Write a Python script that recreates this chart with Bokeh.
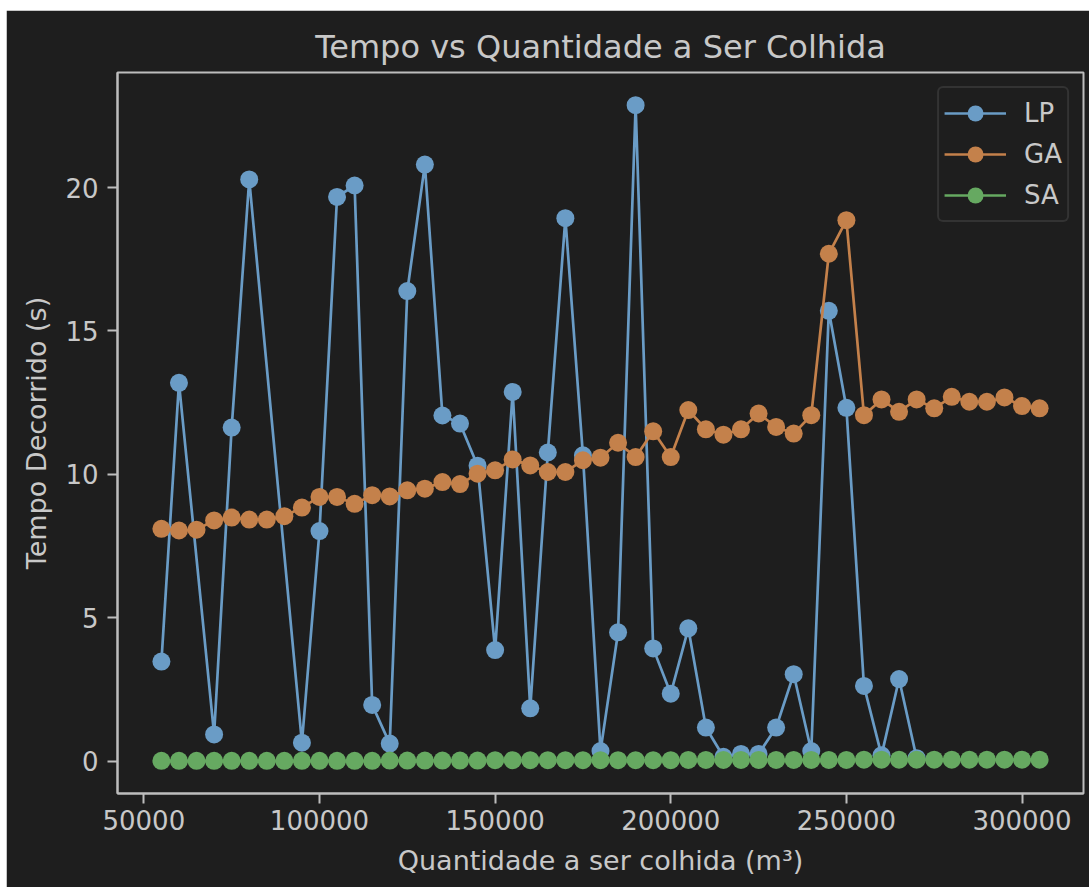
from bokeh.plotting import figure
from bokeh.models import Range1d, FixedTicker, NumeralTickFormatter
from bokeh.embed import file_html
from bokeh.resources import INLINE

# ---- data ----
quantidade = [55000, 60000, 65000, 70000, 75000, 80000, 85000, 90000, 95000, 100000,
              105000, 110000, 115000, 120000, 125000, 130000, 135000, 140000, 145000, 150000,
              155000, 160000, 165000, 170000, 175000, 180000, 185000, 190000, 195000, 200000,
              205000, 210000, 215000, 220000, 225000, 230000, 235000, 240000, 245000, 250000,
              255000, 260000, 265000, 270000, 275000, 280000, 285000, 290000, 295000, 300000,
              305000]

lp_quantidade = [55000, 60000, 70000, 75000, 80000, 95000, 100000, 105000, 110000, 115000,
                 120000, 125000, 130000, 135000, 140000, 145000, 150000, 155000, 160000, 165000,
                 170000, 175000, 180000, 185000, 190000, 195000, 200000, 205000, 210000, 215000,
                 220000, 225000, 230000, 235000, 240000, 245000, 250000, 255000, 260000, 265000,
                 270000]
lp_tempo = [3.47, 13.19, 0.93, 11.63, 20.28, 0.64, 8.02, 19.67, 20.07, 1.96,
            0.61, 16.39, 20.80, 12.05, 11.77, 10.30, 3.87, 12.87, 1.84, 10.76,
            18.93, 10.66, 0.35, 4.49, 22.87, 3.93, 2.35, 4.63, 1.17, 0.15,
            0.25, 0.25, 1.17, 3.03, 0.35, 15.70, 12.32, 2.62, 0.20, 2.86,
            0.10]

ga_tempo = [8.10, 8.04, 8.07, 8.39, 8.49, 8.42, 8.42, 8.54, 8.84, 9.21,
            9.21, 8.97, 9.27, 9.23, 9.44, 9.50, 9.73, 9.66, 10.02, 10.14,
            10.52, 10.31, 10.08, 10.08, 10.49, 10.58, 11.10, 10.60, 11.50, 10.60,
            12.24, 11.57, 11.38, 11.57, 12.12, 11.65, 11.42, 12.06, 17.69, 18.86,
            12.06, 12.61, 12.18, 12.61, 12.30, 12.70, 12.53, 12.53, 12.68, 12.38,
            12.30]

sa_tempo = [0.01, 0.01, 0.01, 0.01, 0.01, 0.01, 0.01, 0.01, 0.01, 0.01,
            0.01, 0.01, 0.01, 0.02, 0.02, 0.02, 0.02, 0.02, 0.02, 0.03,
            0.03, 0.03, 0.03, 0.03, 0.03, 0.03, 0.03, 0.03, 0.03, 0.03,
            0.04, 0.04, 0.04, 0.04, 0.04, 0.04, 0.04, 0.04, 0.04, 0.04,
            0.05, 0.05, 0.05, 0.05, 0.05, 0.05, 0.05, 0.05, 0.05, 0.05,
            0.05]

x_ticks = [50000, 100000, 150000, 200000, 250000, 300000]
y_ticks = [0, 5, 10, 15, 20]

# ---- style ----
BG = "#1e1e1e"
FG = "#c8c8c8"
SPINE = "#bdbdbd"
FONT = "DejaVu Sans"
C_LP = "#6a9cc6"
C_GA = "#c4814b"
C_SA = "#66a961"

p = figure(width=1083, height=877, output_backend="svg", toolbar_location=None,
           x_range=Range1d(42500, 317500), y_range=Range1d(-1.13, 24.01),
           min_border_left=111, min_border_right=6, min_border_top=62, min_border_bottom=94,
           background_fill_color=BG, border_fill_color=BG, margin=(10, 0, 0, 6),
           title="Tempo vs Quantidade a Ser Colhida")

p.title.align = "center"
p.title.text_font = FONT
p.title.text_font_size = "32px"
p.title.text_font_style = "normal"
p.title.text_color = FG
p.title.standoff = 14

p.grid.visible = False
p.outline_line_color = SPINE
p.outline_line_width = 2

for ax in (p.xaxis[0], p.yaxis[0]):
    ax.axis_line_color = SPINE
    ax.axis_line_width = 2
    ax.major_tick_line_color = SPINE
    ax.major_tick_line_width = 2
    ax.major_tick_out = 10
    ax.major_tick_in = 0
    ax.minor_tick_line_color = None
    ax.major_label_text_font = FONT
    ax.major_label_text_font_size = "26px"
    ax.major_label_text_color = FG
    ax.axis_label_text_font = FONT
    ax.axis_label_text_font_size = "27px"
    ax.axis_label_text_font_style = "normal"
    ax.axis_label_text_color = FG

p.xaxis[0].ticker = FixedTicker(ticks=x_ticks)
p.yaxis[0].ticker = FixedTicker(ticks=y_ticks)
p.xaxis[0].formatter = NumeralTickFormatter(format="0")
p.yaxis[0].formatter = NumeralTickFormatter(format="0")
p.xaxis[0].axis_label = "Quantidade a ser colhida (m³)"
p.yaxis[0].axis_label = "Tempo Decorrido (s)"
p.xaxis[0].major_label_standoff = 6
p.xaxis[0].axis_label_standoff = 12
p.yaxis[0].major_label_standoff = 9
p.yaxis[0].axis_label_standoff = 10

series = [
    ("LP", lp_quantidade, lp_tempo, C_LP),
    ("GA", quantidade, ga_tempo, C_GA),
    ("SA", quantidade, sa_tempo, C_SA),
]
for name, xs, ys, col in series:
    p.line(xs, ys, line_color=col, line_width=2.7, legend_label=name)
    p.scatter(xs, ys, size=18, fill_color=col, line_color=col, line_width=0,
              legend_label=name)

lg = p.legend[0]
lg.location = "top_right"
lg.margin = 14
lg.padding = 5
lg.spacing = 1
lg.glyph_width = 62
lg.glyph_height = 40
lg.label_height = 40
lg.label_standoff = 18
lg.label_text_font = FONT
lg.label_text_font_size = "26px"
lg.label_text_color = FG
lg.background_fill_color = BG
lg.background_fill_alpha = 1.0
lg.border_line_color = "#474747"
lg.border_line_width = 2
lg.border_radius = 6

open("out.html", "w").write(file_html(p, INLINE))
